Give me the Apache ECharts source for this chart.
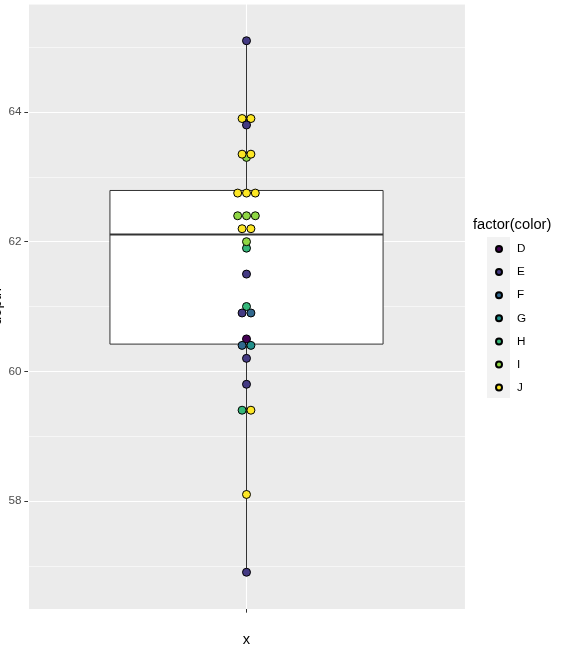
<!DOCTYPE html>
<html>
<head>
<meta charset="utf-8">
<script src="https://cdn.jsdelivr.net/npm/echarts@6/dist/echarts.min.js"></script>
<style>
  html, body { margin: 0; padding: 0; background: #fff; }
  #chart { width: 580px; height: 650px; }
</style>
</head>
<body>
<div id="chart"></div>
<script>
// depth of each diamond and its colour grade (same order)
const depthValues = [65.1, 63.9, 63.9, 63.8, 63.35, 63.35, 63.3, 62.75, 62.75, 62.75,
  62.4, 62.4, 62.4, 62.2, 62.2, 62.0, 61.9, 61.5, 61.0, 60.9,
  60.9, 60.5, 60.4, 60.4, 60.2, 59.8, 59.4, 59.4, 58.1, 56.9]
const colorValues = ['E', 'J', 'J', 'E', 'J', 'J', 'I', 'J', 'J', 'J',
  'I', 'I', 'I', 'J', 'J', 'I', 'H', 'E', 'H', 'E',
  'F', 'D', 'F', 'G', 'E', 'E', 'H', 'J', 'J', 'E']
const colorLevels = ['D', 'E', 'F', 'G', 'H', 'I', 'J']
const levelColors = ['#440154', '#443A83', '#31688E', '#21908C', '#35B779', '#8FD744', '#FDE725']
// lower whisker, lower hinge, median, upper hinge, upper whisker
const boxStats = [56.9, 60.42, 62.11, 62.79, 65.1]
const xCategories = ['']
const yTickValues = [58, 60, 62, 64]

const FONT = '"Liberation Sans", Arial, sans-serif'
const chart = echarts.init(document.getElementById('chart'))

// dots with the same depth sit side by side, centred on x = 1
const dotStep = 0.0242
const rows = {}
depthValues.forEach((d, i) => {
  if (!rows[d]) rows[d] = []
  rows[d].push(i)
})
const xPos = new Array(depthValues.length)
Object.values(rows).forEach((idx) => {
  idx.forEach((p, k) => {
    xPos[p] = 1 + (k - (idx.length - 1) / 2) * dotStep
  })
})

const dotSeries = colorLevels.map((lvl, li) => ({
  name: lvl,
  type: 'scatter',
  xAxisIndex: 1,
  yAxisIndex: 0,
  symbol: 'circle',
  symbolSize: 8,
  z: lvl === 'E' ? 5 : 3,
  silent: true,
  itemStyle: { color: levelColors[li], borderColor: '#000', borderWidth: 1, opacity: 1 },
  data: depthValues
    .map((d, i) => (colorValues[i] === lvl ? [xPos[i], d] : null))
    .filter(Boolean),
}))

const boxSeries = {
  type: 'custom',
  xAxisIndex: 1,
  yAxisIndex: 0,
  z: 2,
  silent: true,
  data: [[1].concat(boxStats)],
  renderItem: (params, api) => {
    const x = api.value(0)
    const half = 0.375
    const lo = api.value(1), q1 = api.value(2), med = api.value(3), q3 = api.value(4), hi = api.value(5)
    const line = (a, b, w) => ({
      type: 'line',
      shape: { x1: a[0], y1: a[1], x2: b[0], y2: b[1] },
      style: { stroke: '#333333', lineWidth: w },
    })
    const tl = api.coord([x - half, q3])
    const br = api.coord([x + half, q1])
    return {
      type: 'group',
      children: [
        line(api.coord([x, hi]), api.coord([x, q3]), 1),
        line(api.coord([x, q1]), api.coord([x, lo]), 1),
        {
          type: 'rect',
          shape: { x: tl[0], y: tl[1], width: br[0] - tl[0], height: br[1] - tl[1] },
          style: { fill: '#fff', stroke: '#333333', lineWidth: 1 },
        },
        line(api.coord([x - half, med]), api.coord([x + half, med]), 2),
      ],
    }
  },
}

const option = {
  animation: false,
  textStyle: { fontFamily: FONT },
  title: {
    text: 'factor(color)',
    left: 473,
    top: 217,
    padding: 0,
    textStyle: { fontSize: 14.7, fontWeight: 'normal', color: '#000', fontFamily: FONT },
  },
  legend: {
    data: colorLevels,
    orient: 'vertical',
    left: 495,
    top: 242,
    padding: 0,
    icon: 'circle',
    itemWidth: 26,
    itemHeight: 6,
    itemGap: 9.1,
    selectedMode: false,
    textStyle: { fontSize: 11.7, color: '#000', lineHeight: 14, fontFamily: FONT },
  },
  graphic: [
    {
      type: 'rect',
      z: -1,
      shape: { x: 487, y: 237, width: 23, height: 161 },
      style: { fill: '#F2F2F2' },
    },
  ],
  grid: {
    left: 28,
    right: 115,
    top: 4,
    bottom: 41,
    containLabel: false,
    outerBoundsMode: 'none',
    show: true,
    backgroundColor: '#EBEBEB',
    borderWidth: 0,
  },
  xAxis: [
    {
      type: 'category',
      data: xCategories,
      position: 'bottom',
      axisLine: { show: false },
      axisTick: { show: true, alignWithLabel: true, length: 3.67, lineStyle: { color: '#333', width: 1 } },
      axisLabel: { color: '#4D4D4D', fontSize: 11.7 },
      splitLine: { show: false },
      name: 'x',
      nameLocation: 'middle',
      nameGap: 23,
      nameTextStyle: { fontSize: 14.7, color: '#000', fontFamily: FONT },
    },
    {
      type: 'value',
      min: 0.4,
      max: 1.6,
      interval: 0.6,
      position: 'bottom',
      axisLine: { show: false },
      axisTick: { show: false },
      axisLabel: { show: false },
      splitLine: { show: true, lineStyle: { color: '#fff', width: 1.1 } },
    },
  ],
  yAxis: [
    {
      type: 'value',
      min: 56.333,
      max: 65.667,
      splitNumber: 5,
      position: 'left',
      axisLine: { show: false },
      axisTick: { show: true, length: 3.67, customValues: yTickValues, lineStyle: { color: '#333', width: 1 } },
      axisLabel: {
        color: '#4D4D4D',
        fontSize: 11.7,
        margin: 6.5,
        customValues: yTickValues,
      },
      splitLine: { show: true, lineStyle: { color: '#fff', width: 1.1 } },
      name: 'depth',
      nameLocation: 'middle',
      nameGap: 24,
      nameMoveOverlap: false,
      nameTextStyle: { fontSize: 14.7, color: '#000', fontFamily: FONT },
    },
    {
      type: 'value',
      min: 56.333,
      max: 65.667,
      splitNumber: 10,
      position: 'left',
      axisLine: { show: false },
      axisTick: { show: false },
      axisLabel: { show: false },
      splitLine: { show: true, lineStyle: { color: '#fff', width: 0.55 } },
    },
  ],
  series: [boxSeries].concat(dotSeries),
}

chart.setOption(option)
</script>
</body>
</html>
